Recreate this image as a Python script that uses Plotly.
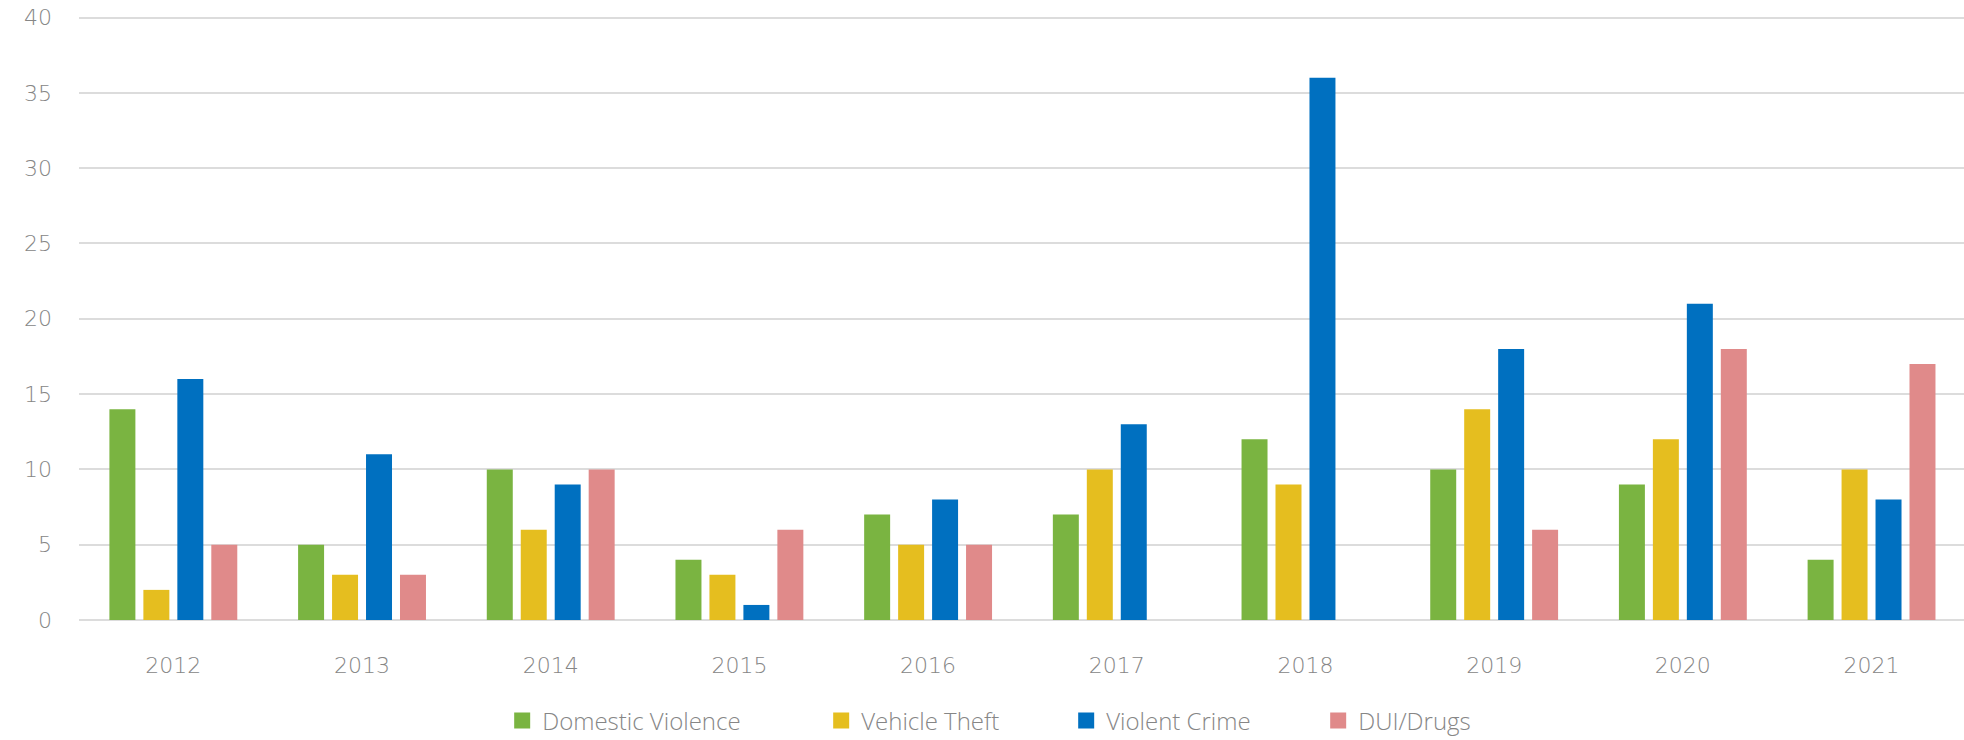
import plotly.graph_objects as go

years = ["2012", "2013", "2014", "2015", "2016", "2017", "2018", "2019", "2020", "2021"]
domestic_violence = [14, 5, 10, 4, 7, 7, 12, 10, 9, 4]
vehicle_theft = [2, 3, 6, 3, 5, 10, 9, 14, 12, 10]
violent_crime = [16, 11, 9, 1, 8, 13, 36, 18, 21, 8]
dui_drugs = [5, 3, 10, 6, 5, 0, 0, 6, 18, 17]

series = [
    ("Domestic Violence", domestic_violence, "#7AB441"),
    ("Vehicle Theft", vehicle_theft, "#E5BE1F"),
    ("Violent Crime", violent_crime, "#0070C0"),
    ("DUI/Drugs", dui_drugs, "#E08A8A"),
]
# width reserved for each legend entry's label, in pixels
entry_widths = [274, 200, 207, None]

fig = go.Figure()
for name, values, color in series:
    fig.add_trace(go.Bar(
        x=list(range(len(years))), y=values, name=name, legendgroup=name,
        showlegend=False, marker=dict(color=color, line=dict(width=0)),
    ))

# legend keys drawn as larger square swatches
for (name, values, color), lw in zip(series, entry_widths):
    fig.add_trace(go.Scatter(
        x=[None], y=[None], mode="markers", name=name, legendgroup=name,
        legendwidth=lw, marker=dict(symbol="square", size=16, color=color),
    ))

text_color = "#868686"
tick_font = dict(family="DejaVu Sans", size=22, color=text_color, weight=200)
legend_font = dict(family="Open Sans", size=24, color=text_color, weight=300)

fig.update_layout(
    width=1964, height=740,
    margin=dict(l=79, r=0, t=16, b=120, autoexpand=False),
    paper_bgcolor="white", plot_bgcolor="white",
    barmode="group", bargap=0.28, bargroupgap=0.235,
    font=tick_font,
    legend=dict(
        orientation="h", x=0.2245, xanchor="left", y=-0.167, yanchor="middle",
        font=legend_font, itemwidth=30, traceorder="normal", tracegroupgap=0,
    ),
    xaxis=dict(
        tickmode="array", tickvals=list(range(len(years))), ticktext=years,
        range=[-0.5, 9.49], showgrid=False, showline=False, zeroline=False,
        ticks="", ticklabelstandoff=30, tickfont=tick_font, automargin=False,
    ),
    yaxis=dict(
        range=[0, 40.1], tickvals=[0, 5, 10, 15, 20, 25, 30, 35, 40],
        showgrid=True, gridcolor="#DCDCDC",
        gridwidth=1.5, zeroline=True, zerolinecolor="#DCDCDC", zerolinewidth=1.5,
        showline=False, ticks="", ticklabelstandoff=26, tickfont=tick_font,
        automargin=False,
    ),
)

fig.write_html("out.html")
